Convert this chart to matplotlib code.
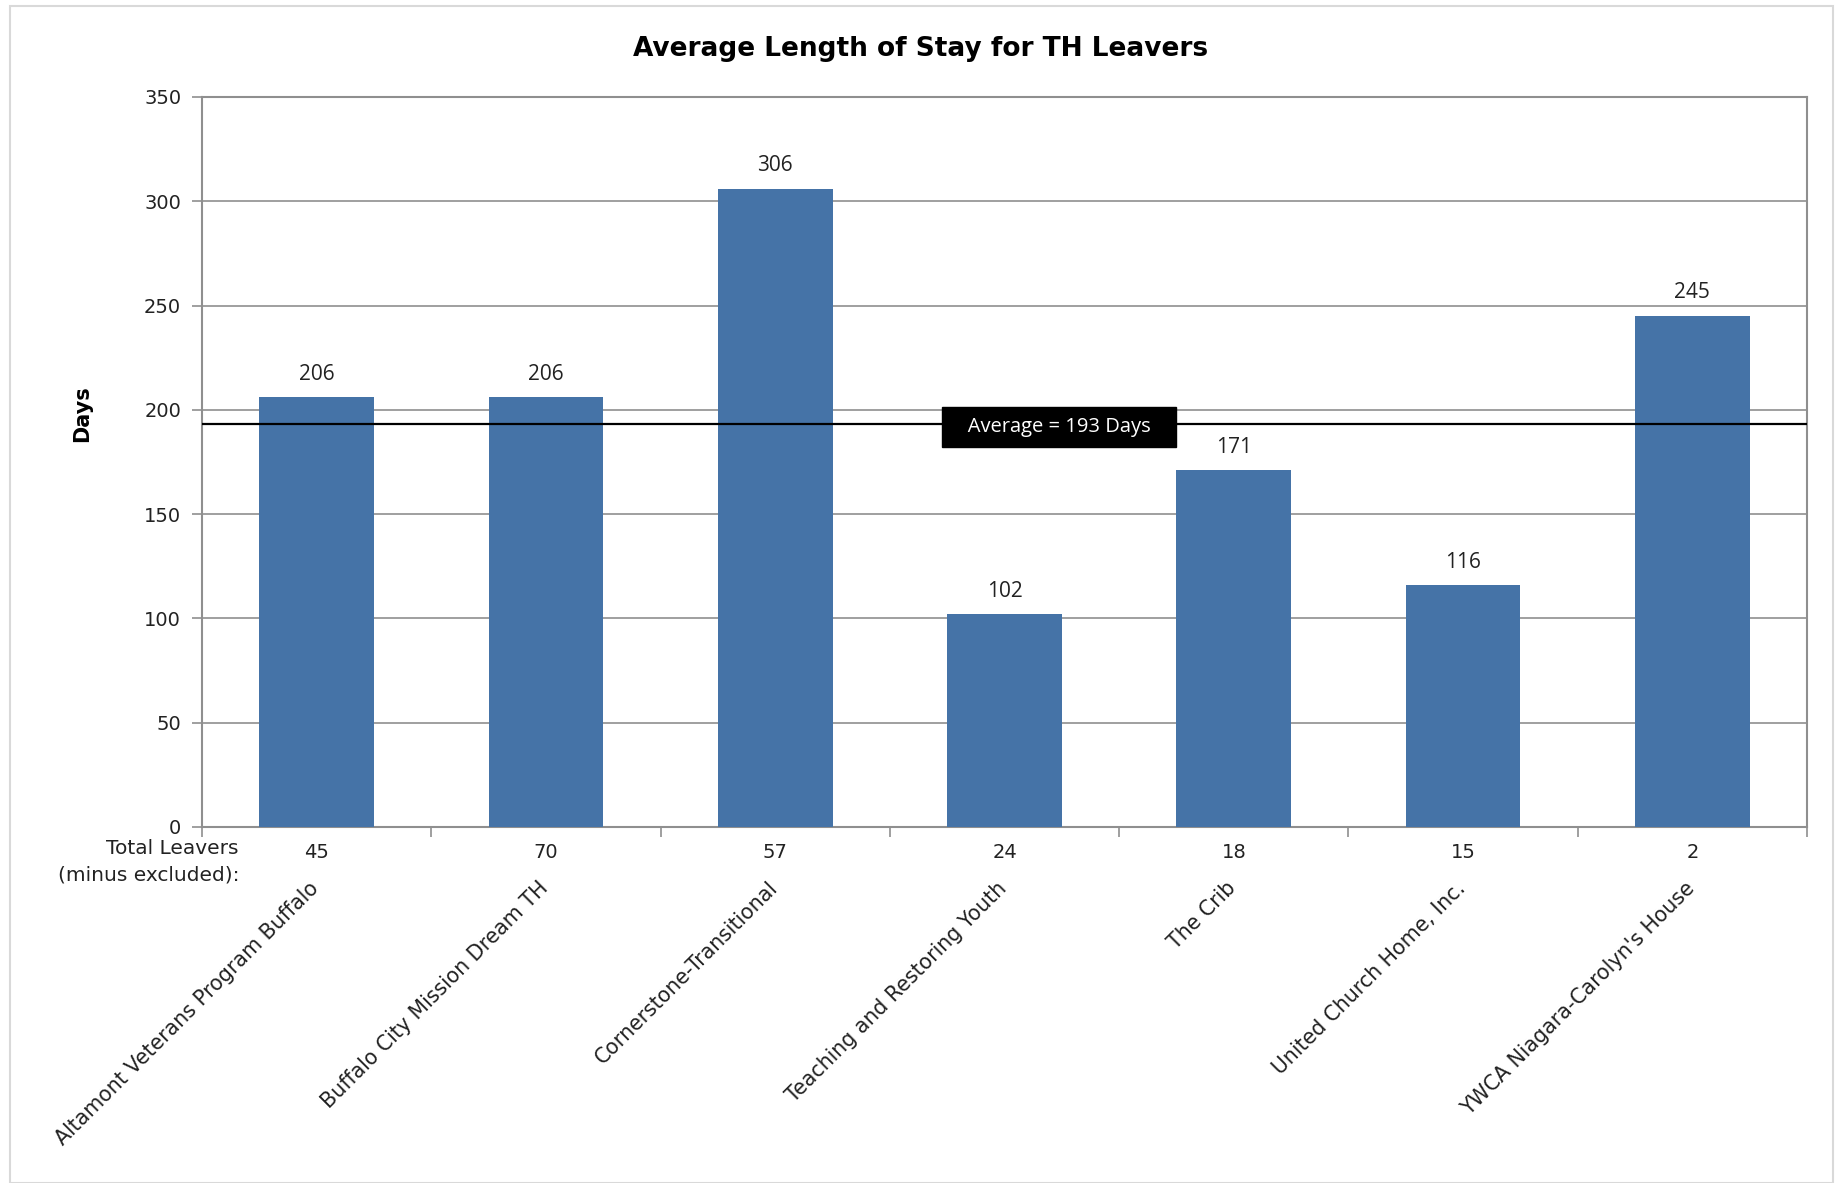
import matplotlib
matplotlib.use("Agg")
import matplotlib.pyplot as plt
import matplotlib.transforms as mtransforms
from matplotlib.patches import Rectangle

categories = ["Altamont Veterans Program Buffalo", "Buffalo City Mission Dream TH",
              "Cornerstone-Transitional", "Teaching and Restoring Youth", "The Crib",
              "United Church Home, Inc.", "YWCA Niagara-Carolyn's House"]
days = [206, 206, 306, 102, 171, 116, 245]
leavers = [45, 70, 57, 24, 18, 15, 2]
average = 193
yticks = [0, 50, 100, 150, 200, 250, 300, 350]

FONT = "DejaVu Sans"
W, H = 1843, 1183
fig = plt.figure(figsize=(W / 100, H / 100), dpi=100)
fig.patch.set_facecolor("white")
fig.add_artist(Rectangle((10 / W, 0.0), (1833 - 10) / W, 1 - 5 / H - 0.0005,
                         transform=fig.transFigure, fill=False,
                         edgecolor="#d9d9d9", lw=1.5))

ax = fig.add_axes([202 / W, 1 - 827 / H, (1807 - 202) / W, (827 - 97) / H])
x = list(range(len(categories)))
bars = ax.bar(x, days, width=0.5, color="#4573A7", zorder=3)
ax.set_xlim(-0.5, len(categories) - 0.5)
ax.set_ylim(0, 350)
ax.set_yticks(yticks)
ax.set_yticklabels([str(v) for v in yticks], fontsize=14, family=FONT, color="#222222")
ax.yaxis.grid(True, color="#8f8f8f", lw=1.2, zorder=1)
ax.set_axisbelow(True)
for s in ax.spines.values():
    s.set_color("#8f8f8f")
    s.set_linewidth(1.5)
ax.tick_params(axis="y", length=7, width=1.2, color="#8f8f8f", pad=8)
ax.set_xticks([i + 0.5 for i in range(len(categories) - 1)] + [-0.5, len(categories) - 0.5])
ax.set_xticklabels([])
ax.tick_params(axis="x", length=7, width=1.2, color="#8f8f8f")

ax.axhline(average, color="black", lw=1.6, zorder=4)

for xi, v in zip(x, days):
    ax.annotate(str(v), (xi, v), xytext=(0, 9), textcoords="offset points",
                ha="center", va="bottom", fontsize=15, family="Open Sans", color="#222222")

# average label box
ax.text(3.237, 191.8, f"   Average = {average} Days   ", ha="center", va="center",
        fontsize=14.5, family="Open Sans", color="white", zorder=6,
        bbox=dict(boxstyle="square,pad=0.5", facecolor="black", edgecolor="black"))

# total leavers row
trans_row = ax.get_xaxis_transform() + mtransforms.ScaledTranslation(0, -0.26, fig.dpi_scale_trans)
for xi, n in zip(x, leavers):
    ax.text(xi, 0, str(n), transform=trans_row, ha="center", va="center",
            fontsize=14, family=FONT, color="#222222")
fig.text(239 / W, 1 - 848 / H, "Total Leavers", ha="right", va="center",
         fontsize=14.5, family=FONT, color="#222222")
fig.text(239 / W, 1 - 875 / H, "(minus excluded):", ha="right", va="center",
         fontsize=14.5, family=FONT, color="#222222")

# category labels
trans_cat = ax.get_xaxis_transform() + mtransforms.ScaledTranslation(-0.08, -0.51, fig.dpi_scale_trans)
for xi, c in zip(x, categories):
    ax.text(xi, 0, c, transform=trans_cat, rotation=45, rotation_mode="anchor",
            ha="right", va="top", fontsize=14.8, family=FONT, color="#222222")

fig.text(921 / W, 1 - 49 / H, "Average Length of Stay for TH Leavers", ha="center",
         va="center", fontsize=19, fontweight="bold", family=FONT, color="black")
fig.text(82 / W, 1 - 414 / H, "Days", rotation=90, ha="center", va="center",
         fontsize=15, fontweight="bold", family=FONT, color="black")

fig.savefig("out.png", dpi=100, facecolor="white")
